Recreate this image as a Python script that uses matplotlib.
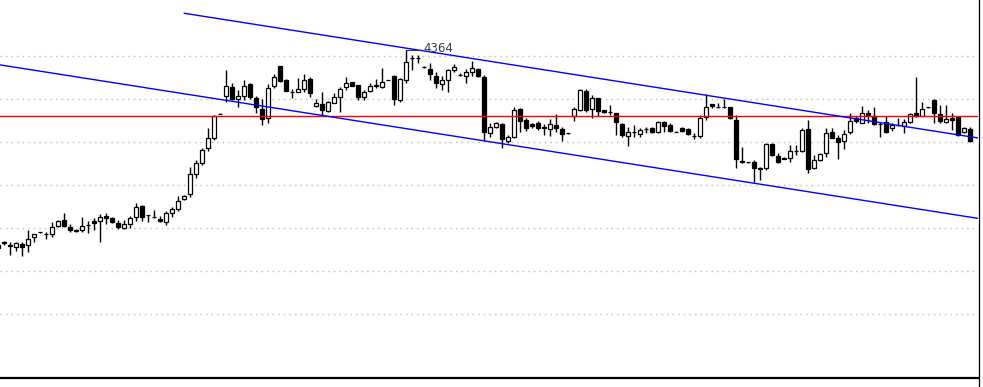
import matplotlib
matplotlib.use("Agg")
import matplotlib.pyplot as plt
import numpy as np
from matplotlib.lines import Line2D

# ---------------- data (OHLC, one candle per bar) ----------------
opens = [3904, 3918, 3911, 3906, 3913, 3910, 3929, 3941, 3937, 3936, 3956, 3969, 3953, 3947, 3945, 3958,
         3966, 3968, 3979, 3974, 3962, 3951, 3959, 3977, 4001, 3980, 3976, 3972, 3965, 3986, 3994, 4017,
         4029, 4076, 4101, 4136, 4159, 4216, 4258, 4278, 4250, 4258, 4286, 4252, 4227, 4206, 4281, 4327,
         4295, 4268, 4268, 4273, 4297, 4235, 4239, 4223, 4242, 4256, 4278, 4290, 4283, 4256, 4270, 4282,
         4278, 4295, 4305, 4248, 4295, 4345, 4345, 4326, 4320, 4304, 4285, 4295, 4318, 4307, 4305, 4313,
         4320, 4301, 4171, 4186, 4192, 4154, 4163, 4227, 4202, 4193, 4194, 4186, 4181, 4190, 4181, 4171,
         4212, 4225, 4270, 4227, 4252, 4225, 4220, 4217, 4192, 4165, 4175, 4169, 4180, 4183, 4175, 4197,
         4190, 4175, 4183, 4181, 4165, 4165, 4208, 4238, 4233, 4231, 4231, 4202, 4107, 4103, 4104, 4091,
         4090, 4145, 4119, 4114, 4113, 4130, 4130, 4180, 4090, 4109, 4124, 4173, 4159, 4154, 4173, 4206,
         4196, 4217, 4210, 4193, 4198, 4183, 4190, 4189, 4197, 4217, 4212, 4231, 4248, 4216, 4198, 4206,
         4208, 4173, 4180]
highs = [3914, 3921, 3918, 3918, 3917, 3945, 3937, 3942, 3941, 3964, 3969, 3985, 3959, 3948, 3976, 3968,
         3973, 3983, 3985, 3976, 3969, 3969, 3979, 4008, 4004, 3981, 3993, 3979, 3991, 3999, 4025, 4027,
         4093, 4109, 4136, 4183, 4213, 4217, 4318, 4287, 4272, 4295, 4289, 4258, 4250, 4286, 4309, 4328,
         4297, 4274, 4299, 4309, 4301, 4250, 4266, 4246, 4265, 4279, 4301, 4291, 4283, 4272, 4289, 4297,
         4322, 4296, 4307, 4299, 4364, 4353, 4353, 4328, 4334, 4314, 4304, 4320, 4332, 4310, 4320, 4340,
         4322, 4307, 4196, 4198, 4194, 4167, 4231, 4229, 4206, 4196, 4200, 4192, 4204, 4215, 4186, 4172,
         4231, 4274, 4274, 4260, 4254, 4226, 4237, 4219, 4194, 4186, 4190, 4183, 4186, 4186, 4200, 4200,
         4194, 4176, 4186, 4183, 4171, 4213, 4262, 4238, 4241, 4251, 4233, 4213, 4138, 4104, 4109, 4092,
         4148, 4149, 4124, 4115, 4144, 4144, 4183, 4202, 4120, 4124, 4183, 4183, 4167, 4179, 4218, 4210,
         4234, 4225, 4233, 4198, 4210, 4194, 4206, 4204, 4219, 4301, 4243, 4232, 4250, 4237, 4237, 4219,
         4209, 4185, 4185]
lows = [3900, 3912, 3889, 3898, 3886, 3894, 3917, 3940, 3925, 3930, 3954, 3954, 3942, 3941, 3942, 3939,
        3945, 3917, 3960, 3962, 3949, 3948, 3951, 3968, 3968, 3965, 3973, 3964, 3958, 3976, 3990, 4016,
        4022, 4068, 4097, 4130, 4155, 4215, 4244, 4248, 4233, 4248, 4250, 4217, 4190, 4194, 4276, 4291,
        4269, 4252, 4266, 4268, 4256, 4233, 4214, 4221, 4241, 4221, 4272, 4281, 4248, 4248, 4268, 4276,
        4276, 4294, 4237, 4244, 4287, 4317, 4335, 4322, 4295, 4276, 4272, 4268, 4314, 4303, 4287, 4303,
        4301, 4154, 4163, 4183, 4136, 4148, 4159, 4175, 4176, 4184, 4179, 4167, 4165, 4175, 4154, 4170,
        4200, 4223, 4220, 4206, 4212, 4217, 4214, 4167, 4163, 4142, 4163, 4163, 4171, 4171, 4171, 4175,
        4175, 4174, 4175, 4167, 4158, 4159, 4202, 4229, 4229, 4229, 4204, 4090, 4101, 4102, 4057, 4062,
        4086, 4119, 4101, 4110, 4103, 4120, 4128, 4078, 4087, 4107, 4115, 4159, 4111, 4134, 4169, 4196,
        4196, 4194, 4190, 4162, 4171, 4177, 4188, 4171, 4194, 4208, 4210, 4230, 4194, 4194, 4196, 4179,
        4165, 4171, 4151]
closes = [3910, 3915, 3908, 3915, 3907, 3924, 3936, 3941, 3937, 3952, 3966, 3955, 3946, 3943, 3955, 3958,
          3963, 3976, 3974, 3964, 3954, 3959, 3973, 3999, 3977, 3980, 3976, 3968, 3985, 3994, 4013, 4025,
          4076, 4101, 4132, 4159, 4211, 4216, 4281, 4250, 4258, 4281, 4256, 4231, 4203, 4276, 4301, 4293,
          4270, 4268, 4274, 4295, 4264, 4242, 4224, 4243, 4255, 4273, 4287, 4282, 4255, 4268, 4282, 4283,
          4290, 4295, 4251, 4297, 4337, 4345, 4345, 4326, 4308, 4287, 4295, 4317, 4326, 4307, 4313, 4322,
          4303, 4173, 4186, 4194, 4157, 4162, 4225, 4200, 4184, 4188, 4184, 4183, 4192, 4184, 4169, 4171,
          4227, 4272, 4224, 4252, 4223, 4220, 4220, 4197, 4167, 4173, 4175, 4179, 4180, 4175, 4197, 4189,
          4177, 4175, 4177, 4169, 4165, 4206, 4231, 4234, 4233, 4231, 4206, 4111, 4104, 4103, 4090, 4087,
          4145, 4120, 4105, 4111, 4130, 4130, 4179, 4089, 4109, 4122, 4171, 4161, 4151, 4169, 4200, 4200,
          4217, 4213, 4193, 4193, 4175, 4190, 4190, 4197, 4215, 4212, 4227, 4231, 4219, 4200, 4204, 4202,
          4167, 4183, 4154]

grid_levels = [3750, 3850, 3950, 4050, 4150, 4250, 4350]
support_level = 4211
channel_upper = [(31.0, 4450), (163.3, 4160)]
channel_lower = [(0.28, 4330), (163.3, 3973)]
peak_index = 67
peak_value = 4364
peak_label = "4364"

# ---------------- figure ----------------
W, H = 983, 387
fig = plt.figure(figsize=(W / 100, H / 100), dpi=100)
fig.patch.set_facecolor("white")
ax = fig.add_axes([0, 9 / H, 978 / W, 378 / H])
ax.set_facecolor("white")

n = len(opens)
x = np.arange(n)
o = np.array(opens, float)
h = np.array(highs, float)
l = np.array(lows, float)
c = np.array(closes, float)
up = c >= o

# gridlines
for g in grid_levels:
    ax.axhline(g, color="#bcbcbc", lw=1.0, linestyle=(0, (1, 3)), zorder=1)

# wicks
ax.vlines(x, l, h, color="black", lw=1.0, zorder=2)
# bodies
bottoms = np.minimum(o, c)
heights = np.abs(c - o)
ax.bar(x[up], heights[up], bottom=bottoms[up], width=0.62, facecolor="white",
       edgecolor="black", linewidth=0.9, zorder=3)
ax.bar(x[~up], heights[~up], bottom=bottoms[~up], width=0.62, facecolor="black",
       edgecolor="black", linewidth=0.9, zorder=3)

# support line and channel
ax.axhline(support_level, color="#ff0000", lw=1.0, zorder=4)
for pts in (channel_upper, channel_lower):
    ax.plot([pts[0][0], pts[1][0]], [pts[0][1], pts[1][1]], color="#0000ff", lw=1.0, zorder=4)

# peak label
ax.plot([peak_index + 1, peak_index + 3.2], [peak_value, peak_value], color="#333333", lw=0.8, zorder=5)
ax.text(peak_index + 3.9, peak_value + 3, peak_label, fontsize=8.5, color="#3a3a4a",
        ha="left", va="center", family="DejaVu Sans", zorder=6)

ax.set_xlim(0.283, 163.28)
ax.set_ylim(3601.8, 4480.9)
ax.set_xticks([])
ax.set_yticks([])
for s in ("left", "top", "right"):
    ax.spines[s].set_visible(False)
ax.spines["bottom"].set_linewidth(1.6)
ax.spines["bottom"].set_color("black")

# right border line running the full height
fig.add_artist(Line2D([978.5 / W, 978.5 / W], [0, 1], transform=fig.transFigure,
                      color="black", lw=0.9))

fig.savefig("out.png", dpi=100, facecolor="white")
